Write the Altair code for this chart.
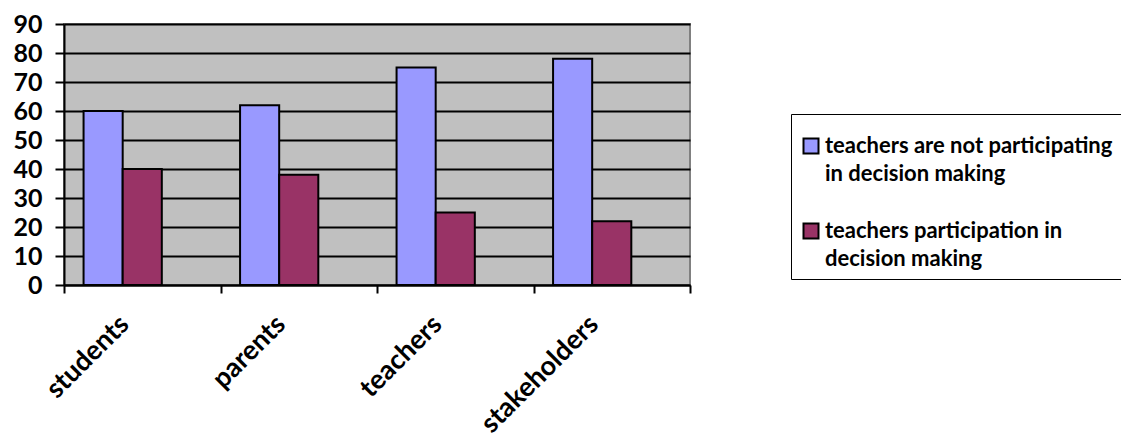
import altair as alt
import pandas as pd

categories = ["students", "parents", "teachers", "stakeholders"]
series_names = ["teachers are not participating in decision making",
                "teachers participation in decision making"]
not_participating = [60, 62, 75, 78]
participating = [40, 38, 25, 22]
colors = ["#9999FF", "#993366"]

rows = []
for c, a, b in zip(categories, not_participating, participating):
    rows.append({"category": c, "series": series_names[0], "value": a})
    rows.append({"category": c, "series": series_names[1], "value": b})
df = pd.DataFrame(rows)

FONT = "Lato"

chart = alt.Chart(df).mark_bar(stroke="black", strokeWidth=2).encode(
    x=alt.X("category:N", sort=categories,
            scale=alt.Scale(paddingInner=0, paddingOuter=0),
            axis=alt.Axis(title=None, labelAngle=-45, labelAlign="right",
                          labelBaseline="middle", tickBand="extent",
                          labelFont=FONT, labelFontWeight="bold", labelFontSize=27,
                          labelColor="black", domainColor="black", domainWidth=2,
                          tickColor="black", tickWidth=2, tickSize=8,
                          labelPadding=27, labelOffset=-18, grid=False)),
    xOffset=alt.XOffset("series:N", sort=series_names,
                        scale=alt.Scale(paddingInner=0, paddingOuter=1, align=0.25)),
    y=alt.Y("value:Q", scale=alt.Scale(domain=[0, 90], nice=False),
            axis=alt.Axis(title=None, values=list(range(0, 91, 10)),
                          labelFont=FONT, labelFontWeight="bold", labelFontSize=25,
                          labelColor="black", domainColor="black", domainWidth=2,
                          tickColor="black", tickWidth=2, tickSize=9,
                          labelPadding=13, grid=True, gridColor="black",
                          gridWidth=2, gridOpacity=1)),
    color=alt.Color("series:N", sort=series_names,
                    scale=alt.Scale(domain=series_names, range=colors),
                    legend=alt.Legend(title=" ", titleFontSize=4, titlePadding=8,
                                      orient="none", legendX=727, legendY=90,
                                      symbolType="square", symbolSize=225,
                                      symbolStrokeColor="black", symbolStrokeWidth=2,
                                      labelFont=FONT, labelFontWeight="bold",
                                      labelFontSize=22, labelColor="black",
                                      labelLimit=400, labelOffset=3,
                                      labelExpr="datum.label == 'teachers are not participating in decision making' ? ['teachers are not participating', 'in decision making'] : ['teachers participation in', 'decision making']",
                                      strokeColor="black", padding=9,
                                      rowPadding=34,
                                      fillColor="white")),
).properties(
    width=626, height=261,
    padding={"left": 64, "top": 24, "right": 431, "bottom": 149},
    autosize=alt.AutoSizeParams(type="none"),
    background="white",
).configure(
    style={"guide-label": {"lineHeight": 28}}
).configure_view(
    fill="#C0C0C0", stroke="#808080", strokeWidth=2
)

chart.save("out.html", embed_options={"renderer": "svg", "actions": False})
